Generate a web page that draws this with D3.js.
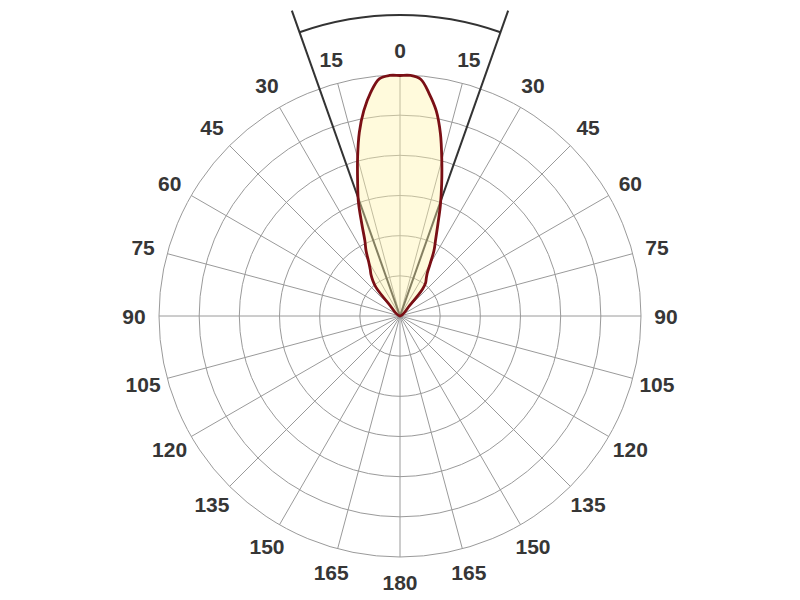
<!DOCTYPE html>
<html>
<head>
<meta charset="utf-8">
<script src="https://cdn.jsdelivr.net/npm/d3@7"></script>
<style>
  html, body { margin: 0; padding: 0; background: #ffffff; }
  svg { display: block; }
</style>
</head>
<body>
<svg id="chart" width="800" height="600"></svg>
<script>
// ---- data ----
const gammaAngles = [0, 2.5, 5, 7.5, 10, 12.5, 15, 17.5, 20, 22.5, 25, 27.5, 30, 32.5, 35, 37.5, 40, 42.5, 45];
// relative intensity (%) in C0 plane (right half) and C180 plane (left half)
const c0Values   = [99.8, 99.9, 98.6, 93, 86.5, 77.5, 67, 57.5, 49, 41, 35, 30.5, 25, 21, 19, 17.5, 14.5, 6, 0];
const c180Values = [99.8, 99.9, 98.8, 93.5, 86.5, 78, 68, 58.5, 50.5, 41.5, 34.5, 30.5, 26, 23, 21, 18.5, 15.5, 7, 0];
const ringValues = [16.67, 33.33, 50, 66.67, 83.33, 100];
const spokeAngles = d3.range(0, 360, 15);
const labelAngles = [0, 15, 30, 45, 60, 75, 90, 105, 120, 135, 150, 165, 180, -15, -30, -45, -60, -75, -90, -105, -120, -135, -150, -165];
const labelTexts  = ["0", "15", "30", "45", "60", "75", "90", "105", "120", "135", "150", "165", "180", "15", "30", "45", "60", "75", "90", "105", "120", "135", "150", "165"];
const beamHalfAngle = 19.5;

// ---- layout ----
const svg = d3.select("#chart");
const cx = 400, cy = 316;
const R = 241;
const r = d3.scaleLinear().domain([0, 100]).range([0, R]);
const toRad = d => d * Math.PI / 180;
const px = (deg, rad) => cx + rad * Math.sin(toRad(deg));
const py = (deg, rad) => cy - rad * Math.cos(toRad(deg));

const grid = svg.append("g");
grid.selectAll("circle").data(ringValues).join("circle")
  .attr("cx", cx).attr("cy", cy).attr("r", d => r(d))
  .attr("fill", "none").attr("stroke", "#9a9a9a").attr("stroke-width", 1);
grid.selectAll("line").data(spokeAngles).join("line")
  .attr("x1", cx).attr("y1", cy)
  .attr("x2", d => px(d, R)).attr("y2", d => py(d, R))
  .attr("stroke", "#9a9a9a").attr("stroke-width", 1);

// beam angle sector
const beam = svg.append("g");
[-beamHalfAngle, beamHalfAngle].forEach(a => {
  beam.append("line")
    .attr("x1", cx).attr("y1", cy)
    .attr("x2", px(a, 324)).attr("y2", py(a, 324))
    .attr("stroke", "#333").attr("stroke-width", 2);
});
beam.append("path")
  .attr("transform", `translate(${cx},${cy})`)
  .attr("d", d3.arc()({innerRadius: 301, outerRadius: 301, startAngle: toRad(-beamHalfAngle), endAngle: toRad(beamHalfAngle)}))
  .attr("fill", "none").attr("stroke", "#333").attr("stroke-width", 2);

// curve
const pts = [];
for (let i = c180Values.length - 1; i >= 0; i--) pts.push([-gammaAngles[i], c180Values[i]]);
for (let i = 1; i < c0Values.length - 1; i++) pts.push([gammaAngles[i], c0Values[i]]);
const line = d3.line()
  .x(d => px(d[0], r(d[1])))
  .y(d => py(d[0], r(d[1])))
  .curve(d3.curveCatmullRomClosed.alpha(0.5));
svg.append("path").datum(pts)
  .attr("d", line)
  .attr("fill", "#fff2a8").attr("fill-opacity", 0.4)
  .attr("stroke", "#7a0f15").attr("stroke-width", 2.8)
  .attr("stroke-linejoin", "round");

// labels
svg.append("g").selectAll("text").data(labelAngles).join("text")
  .attr("x", d => px(d, 266)).attr("y", d => py(d, 266))
  .attr("text-anchor", "middle").attr("dominant-baseline", "central")
  .attr("font-family", "'Liberation Sans', Arial, sans-serif")
  .attr("font-weight", "bold").attr("font-size", 21)
  .attr("fill", "#363636")
  .text((d, i) => labelTexts[i]);
</script>
</body>
</html>
